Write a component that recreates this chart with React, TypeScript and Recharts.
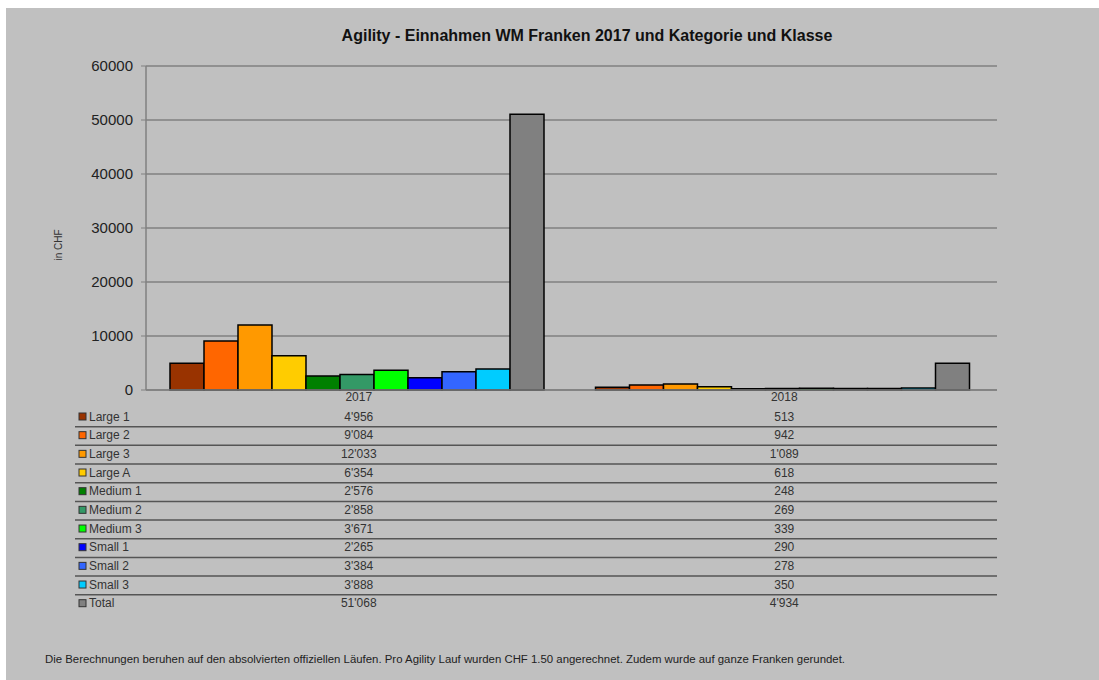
import React from 'react';
import { BarChart, Bar, XAxis, YAxis, CartesianGrid } from 'recharts';

// Werte
const years = ['2017', '2018'];
const seriesNames = ['Large 1', 'Large 2', 'Large 3', 'Large A', 'Medium 1', 'Medium 2', 'Medium 3', 'Small 1', 'Small 2', 'Small 3', 'Total'];
const seriesColors = ['#993300', '#ff6600', '#ff9900', '#ffcc00', '#008000', '#339966', '#00ff00', '#0000ff', '#3366ff', '#00ccff', '#808080'];
const values2017 = [4956, 9084, 12033, 6354, 2576, 2858, 3671, 2265, 3384, 3888, 51068];
const values2018 = [513, 942, 1089, 618, 248, 269, 339, 290, 278, 350, 4934];
const yTicks = [0, 10000, 20000, 30000, 40000, 50000, 60000];

const valuesByYear = [values2017, values2018];

const chartData = years.map((year, i) => {
    const row: Record<string, string | number> = { year };
    seriesNames.forEach((name, j) => {
        row[name] = valuesByYear[i][j];
    });
    return row;
});

const W = 1093;
const H = 672;
const FONT = 'Arial, "Liberation Sans", sans-serif';

// 12033 -> 12'033
const fmt = (n: number) => String(n).replace(/\B(?=(\d{3})+(?!\d))/g, "'");

const ROW_H = 18.67;

const TableTick = (props: any) => {
    const { x, y, payload } = props;
    const yi = years.indexOf(payload.value);
    const vals = valuesByYear[yi] || [];
    return (
        <g fontFamily={FONT} fontSize={12} fill="#333">
            <text x={x} y={y + 11} textAnchor="middle" fill="#333">{payload.value}</text>
            {vals.map((v, i) => (
                <text key={i} x={x} y={y + 30.7 + i * ROW_H} textAnchor="middle" fill="#333">{fmt(v)}</text>
            ))}
            {yi === 0 && seriesNames.map((name, i) => (
                <g key={name}>
                    <rect x={73} y={y + 23 + i * ROW_H} width={7} height={7} fill={seriesColors[i]} stroke="#333" strokeWidth={1} />
                    <text x={83} y={y + 30.7 + i * ROW_H} fill="#333">{name}</text>
                    {i < seriesNames.length - 1 && (
                        <line x1={69} x2={991} y1={y + 36.7 + i * ROW_H} y2={y + 36.7 + i * ROW_H} stroke="#555" strokeWidth={1.5} />
                    )}
                </g>
            ))}
        </g>
    );
};

const App: React.FC = () => {
    return (
        <div style={{ position: 'absolute', left: 6, top: 8, width: W, height: H, background: '#c0c0c0' }}>
            <BarChart
                width={W}
                height={H}
                data={chartData}
                margin={{ top: 58, right: 102, left: 0, bottom: 0 }}
                barCategoryGap={24}
                barGap={0}
            >
                <CartesianGrid vertical={false} stroke="#808080" strokeWidth={1.5} />
                <XAxis
                    dataKey="year"
                    height={290}
                    interval={0}
                    tickSize={0}
                    tickMargin={0}
                    tickLine={false}
                    axisLine={{ stroke: '#808080', strokeWidth: 1.5 }}
                    tick={(p: any) => <TableTick {...p} />}
                />
                <YAxis
                    width={140}
                    domain={[0, 60000]}
                    ticks={yTicks}
                    interval={0}
                    tickSize={5}
                    tickMargin={8}
                    axisLine={{ stroke: '#808080', strokeWidth: 1.5 }}
                    tickLine={{ stroke: '#808080' }}
                    tick={{ fill: '#222', fontSize: 15, fontFamily: FONT }}
                />
                {seriesNames.map((name, i) => (
                    <Bar
                        key={name}
                        dataKey={name}
                        fill={seriesColors[i]}
                        stroke="#000"
                        strokeWidth={1.5}
                        isAnimationActive={false}
                    />
                ))}
            </BarChart>
            <svg width={W} height={H} style={{ position: 'absolute', left: 0, top: 0, pointerEvents: 'none' }}>
                <text x={581} y={33} textAnchor="middle" fontFamily={FONT} fontSize={16} fontWeight="bold" fill="#111">
                    Agility - Einnahmen WM Franken 2017 und Kategorie und Klasse
                </text>
                <text x={56} y={237} textAnchor="middle" fontFamily={FONT} fontSize={10} fill="#333" transform="rotate(-90 56 237)">
                    in CHF
                </text>
                <text
                    x={39}
                    y={655}
                    fontFamily={'"Liberation Sans Narrow", "Arial Narrow", ' + FONT}
                    fontSize={10}
                    fill="#222"
                    textLength={800}
                    lengthAdjust="spacingAndGlyphs"
                >
                    Die Berechnungen beruhen auf den absolvierten offiziellen Läufen. Pro Agility Lauf wurden CHF 1.50 angerechnet. Zudem wurde auf ganze Franken gerundet.
                </text>
            </svg>
        </div>
    );
};

export default App;
